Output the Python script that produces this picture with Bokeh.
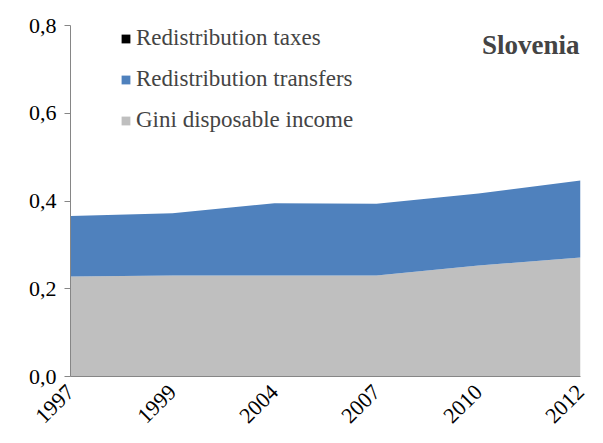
from math import pi
from bokeh.plotting import figure
from bokeh.models import FixedTicker, Legend, LegendItem, Label, Range1d
from bokeh.embed import file_html
from bokeh.resources import INLINE

years = ["1997", "1999", "2004", "2007", "2010", "2012"]
gini_disposable = [0.228, 0.230, 0.230, 0.230, 0.253, 0.271]
redistribution_transfers = [0.138, 0.142, 0.165, 0.164, 0.164, 0.176]
redistribution_taxes = [0.0, 0.0, 0.0, 0.0, 0.0, 0.0]
y_ticks = [0.0, 0.2, 0.4, 0.6, 0.8]
y_tick_labels = ["0,0", "0,2", "0,4", "0,6", "0,8"]

xs = list(range(len(years)))
top1 = gini_disposable
top2 = [a + b for a, b in zip(top1, redistribution_transfers)]
top3 = [a + b for a, b in zip(top2, redistribution_taxes)]

FONT = "'Liberation Serif', serif"

p = figure(width=600, height=440, output_backend="svg", toolbar_location=None,
           x_range=Range1d(0, 5), y_range=Range1d(0, 0.8))
p.min_border_left = 70
p.min_border_right = 20
p.min_border_top = 25
p.min_border_bottom = 64
p.outline_line_color = None
p.xgrid.visible = False
p.ygrid.visible = False
p.background_fill_color = "white"

r_gini = p.varea(x=xs, y1=[0] * len(xs), y2=top1, fill_color="#BFBFBF")
r_tr = p.varea(x=xs, y1=top1, y2=top2, fill_color="#4F81BD")
r_tax = p.varea(x=xs, y1=top2, y2=top3, fill_color="#000000")

# axes
p.yaxis.ticker = FixedTicker(ticks=y_ticks)
p.yaxis.major_label_overrides = {t: l for t, l in zip(y_ticks, y_tick_labels)}
p.yaxis.minor_tick_line_color = None
p.yaxis.major_tick_out = 6
p.yaxis.major_tick_in = 0
p.yaxis.axis_line_color = "#868686"
p.yaxis.major_tick_line_color = "#868686"
p.yaxis.major_label_text_font = FONT
p.yaxis.major_label_text_font_size = "22px"
p.yaxis.major_label_text_color = "#000000"
p.yaxis.major_label_standoff = 8

p.xaxis.ticker = FixedTicker(ticks=xs)
p.xaxis.major_label_overrides = {x: y for x, y in zip(xs, years)}
p.xaxis.minor_tick_line_color = None
p.xaxis.major_tick_line_color = None
p.xaxis.axis_line_color = "#868686"
p.xaxis.major_label_orientation = pi / 4
p.xaxis.major_label_text_font = FONT
p.xaxis.major_label_text_font_size = "22px"
p.xaxis.major_label_text_color = "#000000"
p.xaxis.major_label_standoff = 6

legend = Legend(items=[
    LegendItem(label="Redistribution taxes", renderers=[r_tax]),
    LegendItem(label="Redistribution transfers", renderers=[r_tr]),
    LegendItem(label="Gini disposable income", renderers=[r_gini]),
], location=(50, 243))
legend.background_fill_alpha = 0
legend.border_line_color = None
legend.label_text_font = FONT
legend.label_text_font_size = "23px"
legend.label_height = 20
legend.glyph_width = 11
legend.glyph_height = 11
legend.spacing = 15
legend.label_standoff = 5
legend.padding = 0
legend.margin = 0
p.add_layout(legend, "center")

title = Label(x=5, y=0.8, x_offset=-1, y_offset=-19, text="Slovenia",
              text_align="right", text_baseline="middle",
              text_font=FONT, text_font_size="27px", text_font_style="bold")
p.add_layout(title)

open("out.html", "w").write(file_html(p, INLINE))
